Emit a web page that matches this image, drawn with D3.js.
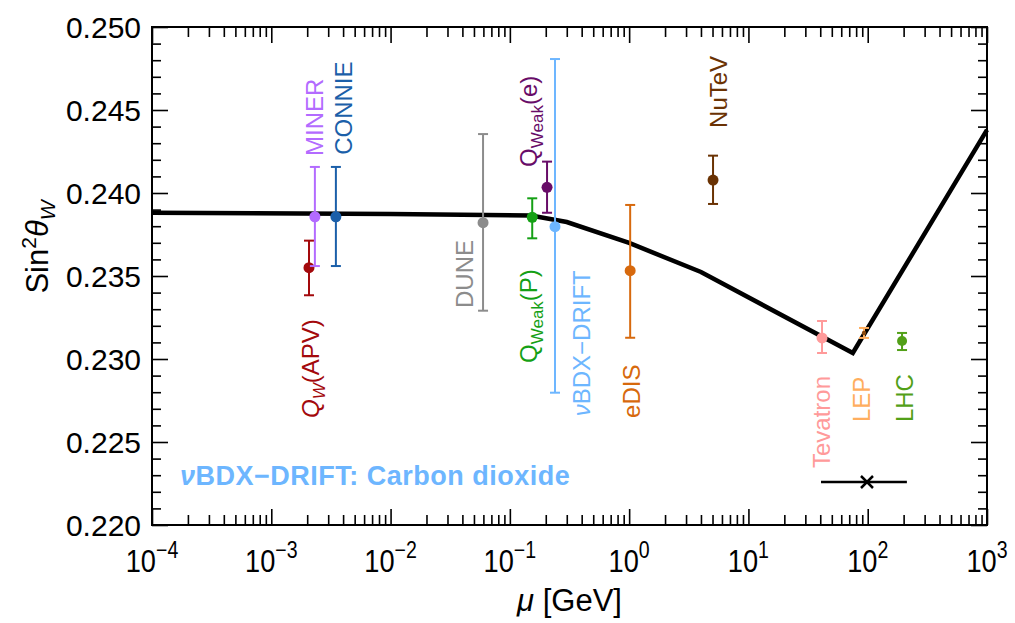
<!DOCTYPE html>
<html>
<head>
<meta charset="utf-8">
<script src="https://cdn.jsdelivr.net/npm/d3@7"></script>
<style>
  html, body { margin: 0; padding: 0; background: #fff; }
  svg { display: block; font-family: "Liberation Sans", Arial, Helvetica, sans-serif; }
</style>
</head>
<body>
<svg id="chart" width="1015" height="623"></svg>
<script>
// Measurements of the weak mixing angle at different energy scales
const experiments = ["APV", "MINER", "CONNIE", "DUNE", "QweakP", "QweakE", "vBDX", "eDIS", "NuTeV", "Tevatron", "LEP", "LHC"];
const muValues  = [0.00207, 0.00232, 0.00348, 0.0596, 0.154, 0.205, 0.239, 1.02, 5.05, 41.4, 93.1, 194];
const s2Values  = [0.2355, 0.23857, 0.23857, 0.23821, 0.23854, 0.24034, 0.23797, 0.23532, 0.24078, 0.23127, 0.23157, 0.23108];
const s2Low     = [0.23384, 0.2356, 0.2356, 0.23291, 0.23727, 0.23881, 0.22797, 0.23128, 0.23934, 0.23036, 0.23127, 0.23054];
const s2High    = [0.23713, 0.24157, 0.24157, 0.24355, 0.23968, 0.24189, 0.24807, 0.23928, 0.24225, 0.23229, 0.23187, 0.23157];

// Standard Model running of sin^2(theta_W)
const runMu = [1e-4, 0.01, 0.15, 0.3, 1, 4, 75, 1000];
const runS2 = [0.23881, 0.23873, 0.23864, 0.23825, 0.23699, 0.23524, 0.23036, 0.2438];

// Horizontal range marker near the bottom
const markerMu = [40.6, 98.6, 213];
const markerS2 = 0.22259;

// Axis ticks
const yMajor = [0.220, 0.225, 0.230, 0.235, 0.240, 0.245, 0.250];
const yTickLabels = ["0.220", "0.225", "0.230", "0.235", "0.240", "0.245", "0.250"];
const xExponents = [-4, -3, -2, -1, 0, 1, 2, 3];

// Styling per experiment
const colors = ["#a3090c", "#b36bff", "#1b5fa9", "#8c8c8c", "#15a015", "#680c68", "#6db6ff", "#d7690d", "#6a3203", "#ff9a9a", "#ffae5e", "#52a018"];
const dotRadius = [5.5, 5.5, 5.5, 5.5, 5.5, 5.5, 5.5, 5.5, 5.5, 5.5, 2.2, 5];
const labelParts = [
  [{t: "Q", it: true}, {t: "W", sub: true, it: true}, {t: "(APV)"}],
  [{t: "MINER"}],
  [{t: "CONNIE"}],
  [{t: "DUNE"}],
  [{t: "Q"}, {t: "Weak", sub: true}, {t: "(P)"}],
  [{t: "Q"}, {t: "Weak", sub: true}, {t: "(e)"}],
  [{t: "ν", it: true}, {t: "BDX−DRIFT"}],
  [{t: "eDIS"}],
  [{t: "NuTeV"}],
  [{t: "Tevatron"}],
  [{t: "LEP"}],
  [{t: "LHC"}]
];
const labelDx = [10, 8, 16, -10, 5, -10, 35, 10, 14, 8, 6, 11];
const labelStart = [0.22645, 0.24223, 0.2423, 0.23307, 0.22976, 0.24157, 0.22655, 0.22645, 0.24392, 0.22343, 0.2262, 0.2262];

const svg = d3.select("#chart");
const plotLeft = 152, plotRight = 987, plotTop = 27, plotBottom = 525;

const x = d3.scaleLog().domain([1e-4, 1e3]).range([plotLeft, plotRight]);
const y = d3.scaleLinear().domain([0.220, 0.250]).range([plotBottom, plotTop]);

const xMinor = [];
for (let e = -4; e < 3; e++) for (let m = 2; m <= 9; m++) xMinor.push(m * Math.pow(10, e));
const xMajor = xExponents.map(e => Math.pow(10, e));
const yMinor = d3.range(0, 31).map(i => 0.220 + i * 0.001).filter((v, i) => i % 5 !== 0);

function tickAxis(gen, tx, ty, values, size) {
  const g = svg.append("g")
    .attr("transform", `translate(${tx},${ty})`)
    .call(gen.tickValues(values).tickSizeInner(-size).tickSizeOuter(0).tickFormat(""));
  g.select(".domain").remove();
  g.selectAll(".tick line").attr("stroke", "#000").attr("stroke-width", 1.6);
  return g;
}

// Inward ticks on all four sides
tickAxis(d3.axisBottom(x), 0, plotBottom, xMajor, 16);
tickAxis(d3.axisBottom(x), 0, plotBottom, xMinor, 10);
tickAxis(d3.axisTop(x), 0, plotTop, xMajor, 16);
tickAxis(d3.axisTop(x), 0, plotTop, xMinor, 10);
tickAxis(d3.axisLeft(y), plotLeft, 0, yMajor, 16);
tickAxis(d3.axisLeft(y), plotLeft, 0, yMinor, 9);
tickAxis(d3.axisRight(y), plotRight, 0, yMajor, 16);
tickAxis(d3.axisRight(y), plotRight, 0, yMinor, 9);

// Frame
svg.append("rect")
  .attr("x", plotLeft).attr("y", plotTop)
  .attr("width", plotRight - plotLeft).attr("height", plotBottom - plotTop)
  .attr("fill", "none").attr("stroke", "#000").attr("stroke-width", 2);

// Y tick labels
svg.append("g").selectAll("text").data(yMajor).join("text")
  .attr("x", plotLeft - 11).attr("y", d => y(d))
  .attr("dy", "0.36em")
  .attr("text-anchor", "end")
  .attr("font-size", 30)
  .text((d, i) => yTickLabels[i]);

// X tick labels as powers of ten
const xl = svg.append("g").selectAll("g").data(xExponents).join("g")
  .attr("transform", d => `translate(${x(Math.pow(10, d))},${plotBottom + 47}) scale(0.85,1)`);
xl.append("text")
  .attr("text-anchor", "middle")
  .attr("font-size", 32)
  .call(t => {
    t.append("tspan").text("10");
    t.append("tspan").attr("font-size", 23).attr("dy", -14).text(d => d < 0 ? "−" + Math.abs(d) : String(d));
  });

// Axis titles
svg.append("text")
  .attr("x", (plotLeft + plotRight) / 2).attr("y", 611)
  .attr("text-anchor", "middle")
  .attr("font-size", 31)
  .call(t => {
    t.append("tspan").attr("font-style", "italic").text("μ");
    t.append("tspan").text(" [GeV]");
  });

svg.append("text")
  .attr("transform", `translate(48,247) rotate(-90)`)
  .attr("text-anchor", "middle")
  .attr("font-size", 31)
  .call(t => {
    t.append("tspan").text("Sin");
    t.append("tspan").attr("font-size", 21).attr("dy", -12).text("2");
    t.append("tspan").attr("font-style", "italic").attr("dy", 12).text("θ");
    t.append("tspan").attr("font-style", "italic").attr("font-size", 21).attr("dy", 7).text("W");
  });

// Running curve
const line = d3.line().x(d => x(d[0])).y(d => y(d[1]));
svg.append("path")
  .datum(runMu.map((m, i) => [m, runS2[i]]))
  .attr("d", line)
  .attr("fill", "none").attr("stroke", "#000").attr("stroke-width", 4.5)
  .attr("stroke-linejoin", "miter");

// Error bars and points
const pts = svg.append("g").selectAll("g").data(experiments).join("g");
pts.append("line")
  .attr("x1", (d, i) => x(muValues[i])).attr("x2", (d, i) => x(muValues[i]))
  .attr("y1", (d, i) => y(s2Low[i])).attr("y2", (d, i) => y(s2High[i]))
  .attr("stroke", (d, i) => colors[i]).attr("stroke-width", 2);
[s2Low, s2High].forEach(arr => {
  pts.append("line")
    .attr("x1", (d, i) => x(muValues[i]) - 5).attr("x2", (d, i) => x(muValues[i]) + 5)
    .attr("y1", (d, i) => y(arr[i])).attr("y2", (d, i) => y(arr[i]))
    .attr("stroke", (d, i) => colors[i]).attr("stroke-width", 2);
});
pts.append("circle")
  .attr("cx", (d, i) => x(muValues[i])).attr("cy", (d, i) => y(s2Values[i]))
  .attr("r", (d, i) => dotRadius[i])
  .attr("fill", (d, i) => i === 10 ? "#8a4a10" : colors[i]);

// Rotated experiment labels
pts.append("text")
  .attr("transform", (d, i) => `translate(${x(muValues[i]) + labelDx[i]},${y(labelStart[i])}) rotate(-90)`)
  .attr("font-size", 24)
  .attr("fill", (d, i) => colors[i])
  .each(function (d, i) {
    const t = d3.select(this);
    let shift = 0;
    labelParts[i].forEach(p => {
      const dy = p.sub ? 6 - shift : -shift;
      shift = p.sub ? 6 : 0;
      t.append("tspan")
        .attr("dy", dy)
        .attr("font-size", p.sub ? 17 : 24)
        .attr("font-style", p.it ? "italic" : "normal")
        .text(p.t);
    });
  });

// Range marker with a cross at the centre
svg.append("line")
  .attr("x1", x(markerMu[0])).attr("x2", x(markerMu[2]))
  .attr("y1", y(markerS2)).attr("y2", y(markerS2))
  .attr("stroke", "#000").attr("stroke-width", 2.5);
const cx = x(markerMu[1]), cy = y(markerS2);
svg.append("path")
  .attr("d", `M${cx - 6},${cy - 6}L${cx + 6},${cy + 6}M${cx - 6},${cy + 6}L${cx + 6},${cy - 6}`)
  .attr("stroke", "#000").attr("stroke-width", 2.5);

// Target annotation
svg.append("text")
  .attr("x", 180).attr("y", 485)
  .attr("font-size", 27).attr("font-weight", "bold")
  .attr("letter-spacing", 0.5)
  .attr("fill", "#6db6ff")
  .call(t => {
    t.append("tspan").attr("font-style", "italic").text("ν");
    t.append("tspan").text("BDX−DRIFT: Carbon dioxide");
  });
</script>
</body>
</html>
